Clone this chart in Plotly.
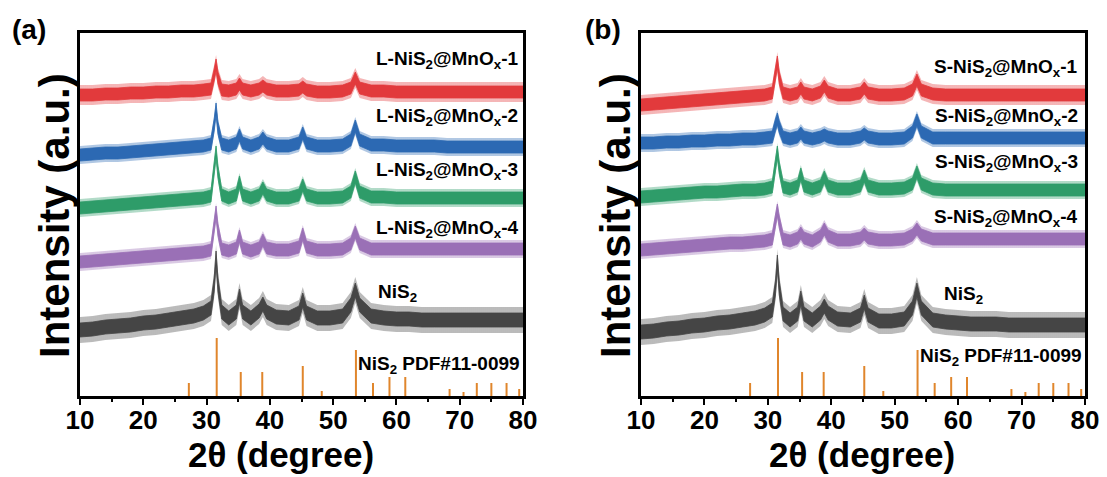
import plotly.graph_objects as go

# ---------------- data ----------------
two_theta = [10, 12, 14, 16, 18, 20, 22, 24, 26, 28, 29.5, 30.7, 31.2, 31.5, 31.8, 32.4,
             33.5, 34.7, 35.2, 35.7, 37, 38.3, 38.9, 39.5, 41, 43, 44.6, 45.2, 45.8, 47.5,
             49.5, 51.5, 52.8, 53.5, 54.2, 56, 58, 60, 62, 64, 66, 68, 70, 72, 74, 76, 78, 80]

# panel (a)
L1 = [301, 301, 302, 302, 303, 303, 304, 304, 305, 305, 306, 307, 321, 331, 318, 306, 305, 307, 312, 307,
      305, 307, 310, 307, 305, 305, 306, 309, 306, 304, 304, 305, 308, 318, 308, 305, 305, 304, 304, 304,
      304, 304, 304, 304, 304, 304, 304, 304]
L2 = [241, 242, 243, 243, 244, 245, 246, 247, 248, 249, 250, 252, 271, 287, 268, 252, 250, 253, 261, 253,
      250, 253, 258, 253, 250, 250, 253, 263, 253, 250, 250, 251, 256, 270, 256, 251, 251, 250, 250, 250,
      250, 249, 249, 249, 249, 249, 249, 249]
L3 = [188, 189, 190, 191, 192, 193, 194, 195, 196, 197, 198, 200, 226, 244, 224, 201, 198, 201, 214, 201,
      198, 201, 208, 201, 198, 198, 201, 211, 201, 198, 198, 199, 204, 219, 204, 199, 199, 198, 198, 198,
      198, 198, 198, 198, 198, 198, 198, 198]
L4 = [134, 135, 136, 137, 138, 139, 140, 141, 142, 143, 144, 146, 168, 184, 166, 147, 145, 148, 160, 148,
      145, 148, 156, 148, 146, 146, 149, 162, 149, 146, 146, 147, 152, 164, 152, 147, 147, 147, 147, 147,
      147, 147, 147, 147, 147, 147, 147, 147]
NiS2_a = [66, 67, 69, 70, 71, 73, 74, 76, 78, 80, 83, 88, 111, 138, 111, 84, 78, 84, 100, 84,
          78, 85, 92, 84, 79, 78, 83, 96, 83, 78, 78, 80, 91, 106, 91, 80, 78, 77, 77, 76,
          76, 76, 76, 76, 76, 76, 76, 76]

# panel (b)
S1 = [291, 292, 293, 294, 295, 296, 297, 298, 299, 300, 301, 303, 321, 334, 318, 303, 301, 303, 308, 303,
      301, 304, 310, 304, 301, 301, 303, 308, 303, 301, 301, 302, 306, 316, 306, 302, 301, 301, 301, 301,
      301, 301, 301, 301, 301, 301, 301, 301]
S2 = [253, 253, 254, 254, 255, 255, 256, 256, 257, 257, 258, 259, 271, 277, 269, 259, 257, 259, 263, 259,
      257, 259, 261, 259, 257, 257, 259, 262, 259, 257, 257, 258, 264, 276, 264, 258, 258, 258, 258, 258,
      258, 258, 258, 258, 258, 258, 258, 258]
S3 = [199, 200, 201, 202, 203, 204, 204, 205, 206, 206, 207, 209, 231, 244, 228, 209, 207, 210, 222, 210,
      207, 210, 219, 210, 207, 207, 210, 220, 210, 207, 207, 208, 212, 224, 212, 207, 206, 206, 206, 206,
      206, 206, 206, 206, 206, 206, 206, 206]
S4 = [146, 147, 148, 149, 150, 151, 152, 153, 153, 154, 155, 157, 176, 186, 174, 157, 155, 158, 163, 158,
      155, 160, 167, 160, 156, 156, 158, 162, 158, 156, 156, 157, 161, 167, 161, 157, 157, 157, 157, 157,
      157, 157, 157, 157, 157, 157, 157, 157]
NiS2_b = [64, 65, 67, 68, 70, 71, 73, 74, 76, 78, 81, 86, 108, 134, 108, 82, 76, 82, 98, 82,
          76, 83, 90, 83, 77, 76, 81, 94, 81, 75, 75, 77, 88, 106, 88, 76, 74, 73, 72, 72,
          72, 71, 71, 71, 71, 71, 71, 71]

# PDF#11-0099 reference sticks
pdf_pos = [27.2, 31.6, 35.4, 38.8, 45.2, 48.2, 53.6, 56.3, 58.9, 61.4, 68.4, 70.6, 72.7, 75.0, 77.4, 79.4]
pdf_int = [13, 58, 24, 24, 30, 5, 46, 13, 19, 19, 7, 4, 13, 13, 13, 7]

x_ticks = [10, 20, 30, 40, 50, 60, 70, 80]

labels_a = ["L-NiS<sub>2</sub>@MnO<sub>x</sub>-1", "L-NiS<sub>2</sub>@MnO<sub>x</sub>-2",
            "L-NiS<sub>2</sub>@MnO<sub>x</sub>-3", "L-NiS<sub>2</sub>@MnO<sub>x</sub>-4"]
labels_b = ["S-NiS<sub>2</sub>@MnO<sub>x</sub>-1", "S-NiS<sub>2</sub>@MnO<sub>x</sub>-2",
            "S-NiS<sub>2</sub>@MnO<sub>x</sub>-3", "S-NiS<sub>2</sub>@MnO<sub>x</sub>-4"]

# ---------------- style ----------------
FONT = "Liberation Sans, Arial, sans-serif"
colors = ["#E23A3C", "#2C69B3", "#2E9C69", "#9A70B6", "#454545"]
stick_color = "#E0862C"
band_inner = [6, 6, 6, 6, 7]
band_outer = [10, 9, 9, 9, 13]

fig = go.Figure()


def add_pattern(y, color, hw_in, hw_out, xa, ya):
    # textured outer band (noise spread)
    lo = [v - hw_out for v in y]
    hi = [v + hw_out for v in y]
    fig.add_trace(go.Scatter(x=two_theta, y=lo, mode="lines", line=dict(width=0, color=color),
                             showlegend=False, hoverinfo="skip", xaxis=xa, yaxis=ya))
    fig.add_trace(go.Scatter(x=two_theta, y=hi, mode="lines", line=dict(width=0, color=color),
                             fill="tonexty", fillcolor="rgba(0,0,0,0)",
                             fillpattern=dict(shape="|", fgcolor=color, bgcolor="rgba(255,255,255,0)",
                                              size=2, solidity=0.5, fgopacity=0.75),
                             showlegend=False, hoverinfo="skip", xaxis=xa, yaxis=ya))
    # dense core
    lo = [v - hw_in for v in y]
    hi = [v + hw_in for v in y]
    fig.add_trace(go.Scatter(x=two_theta, y=lo, mode="lines", line=dict(width=0.8, color=color),
                             showlegend=False, hoverinfo="skip", xaxis=xa, yaxis=ya))
    fig.add_trace(go.Scatter(x=two_theta, y=hi, mode="lines", line=dict(width=0.8, color=color),
                             fill="tonexty", fillcolor=color,
                             showlegend=False, hoverinfo="skip", xaxis=xa, yaxis=ya))


def add_sticks(xa, ya):
    sx, sy = [], []
    for p, h in zip(pdf_pos, pdf_int):
        sx += [p, p, None]
        sy += [0, h, None]
    fig.add_trace(go.Scatter(x=sx, y=sy, mode="lines", line=dict(color=stick_color, width=2),
                             showlegend=False, hoverinfo="skip", xaxis=xa, yaxis=ya))


for i, s in enumerate([L1, L2, L3, L4, NiS2_a]):
    add_pattern(s, colors[i], band_inner[i], band_outer[i], "x", "y")
add_sticks("x", "y")
for i, s in enumerate([S1, S2, S3, S4, NiS2_b]):
    add_pattern(s, colors[i], band_inner[i], band_outer[i], "x2", "y2")
add_sticks("x2", "y2")

W, H = 1107, 477
ydom = [1 - 396 / H, 1 - 33 / H]
xdom_a = [80 / W, 523 / W]
xdom_b = [641 / W, 1085 / W]

xaxis_common = dict(range=[10, 80], tickvals=x_ticks, ticks="outside", ticklen=6, tickwidth=2,
                    tickcolor="black", showline=True, linecolor="black", linewidth=2.5, mirror=True,
                    showgrid=False, zeroline=False, automargin=False, ticklabelstandoff=-7,
                    tickfont=dict(family=FONT, size=26, color="black", weight="bold"),
                    minor=dict(dtick=5, tick0=10, ticks="outside", ticklen=3, tickwidth=2,
                               tickcolor="black", showgrid=False))
yaxis_common = dict(range=[0, 363], showticklabels=False, ticks="", showline=True, linecolor="black",
                    linewidth=2.5, mirror=True, showgrid=False, zeroline=False, domain=ydom,
                    automargin=False)

fig.update_layout(
    width=W, height=H, margin=dict(l=0, r=0, t=0, b=0, autoexpand=False),
    paper_bgcolor="white", plot_bgcolor="white", showlegend=False,
    xaxis=dict(domain=xdom_a, anchor="y", **xaxis_common),
    yaxis=dict(anchor="x", **yaxis_common),
    xaxis2=dict(domain=xdom_b, anchor="y2", **xaxis_common),
    yaxis2=dict(anchor="x2", **yaxis_common),
)

ann = []
lab_font = dict(family=FONT, size=19, color="black")
ya_pos = [336, 279, 225, 167]
yb_pos = [328, 279, 233, 178]
for t, yy in zip(labels_a, ya_pos):
    ann.append(dict(x=79.6, y=yy, xref="x", yref="y", text="<b>" + t + "</b>", showarrow=False,
                    xanchor="right", yanchor="middle", font=lab_font))
for t, yy in zip(labels_b, yb_pos):
    ann.append(dict(x=79.2, y=yy, xref="x2", yref="y2", text="<b>" + t + "</b>", showarrow=False,
                    xanchor="right", yanchor="middle", font=lab_font))
ann.append(dict(x=60.2, y=103, xref="x", yref="y", text="<b>NiS<sub>2</sub></b>", showarrow=False,
                xanchor="center", yanchor="middle", font=lab_font))
ann.append(dict(x=60.8, y=101, xref="x2", yref="y2", text="<b>NiS<sub>2</sub></b>", showarrow=False,
                xanchor="center", yanchor="middle", font=lab_font))
ann.append(dict(x=79.9, y=31, xref="x", yref="y", text="<b>NiS<sub>2</sub> PDF#11-0099</b>",
                showarrow=False, xanchor="right", yanchor="middle", font=lab_font))
ann.append(dict(x=79.9, y=39, xref="x2", yref="y2", text="<b>NiS<sub>2</sub> PDF#11-0099</b>",
                showarrow=False, xanchor="right", yanchor="middle", font=lab_font))

# axis titles
for cx in (54 / W, 615 / W):
    ann.append(dict(x=cx, y=1 - 216 / H, xref="paper", yref="paper", text="<b>Intensity (a.u.)</b>",
                    textangle=-90, showarrow=False, xanchor="center", yanchor="middle",
                    font=dict(family=FONT, size=42, color="black")))
for cx in (281 / W, 862 / W):
    ann.append(dict(x=cx, y=1 - 454 / H, xref="paper", yref="paper", text="<b>2θ (degree)</b>",
                    showarrow=False, xanchor="center", yanchor="middle",
                    font=dict(family=FONT, size=35, color="black")))
for cx, t in ((29 / W, "(a)"), (603 / W, "(b)")):
    ann.append(dict(x=cx, y=1 - 30 / H, xref="paper", yref="paper", text="<b>" + t + "</b>",
                    showarrow=False, xanchor="center", yanchor="middle",
                    font=dict(family=FONT, size=28, color="black")))

fig.update_layout(annotations=ann)
fig.write_html("out.html")
